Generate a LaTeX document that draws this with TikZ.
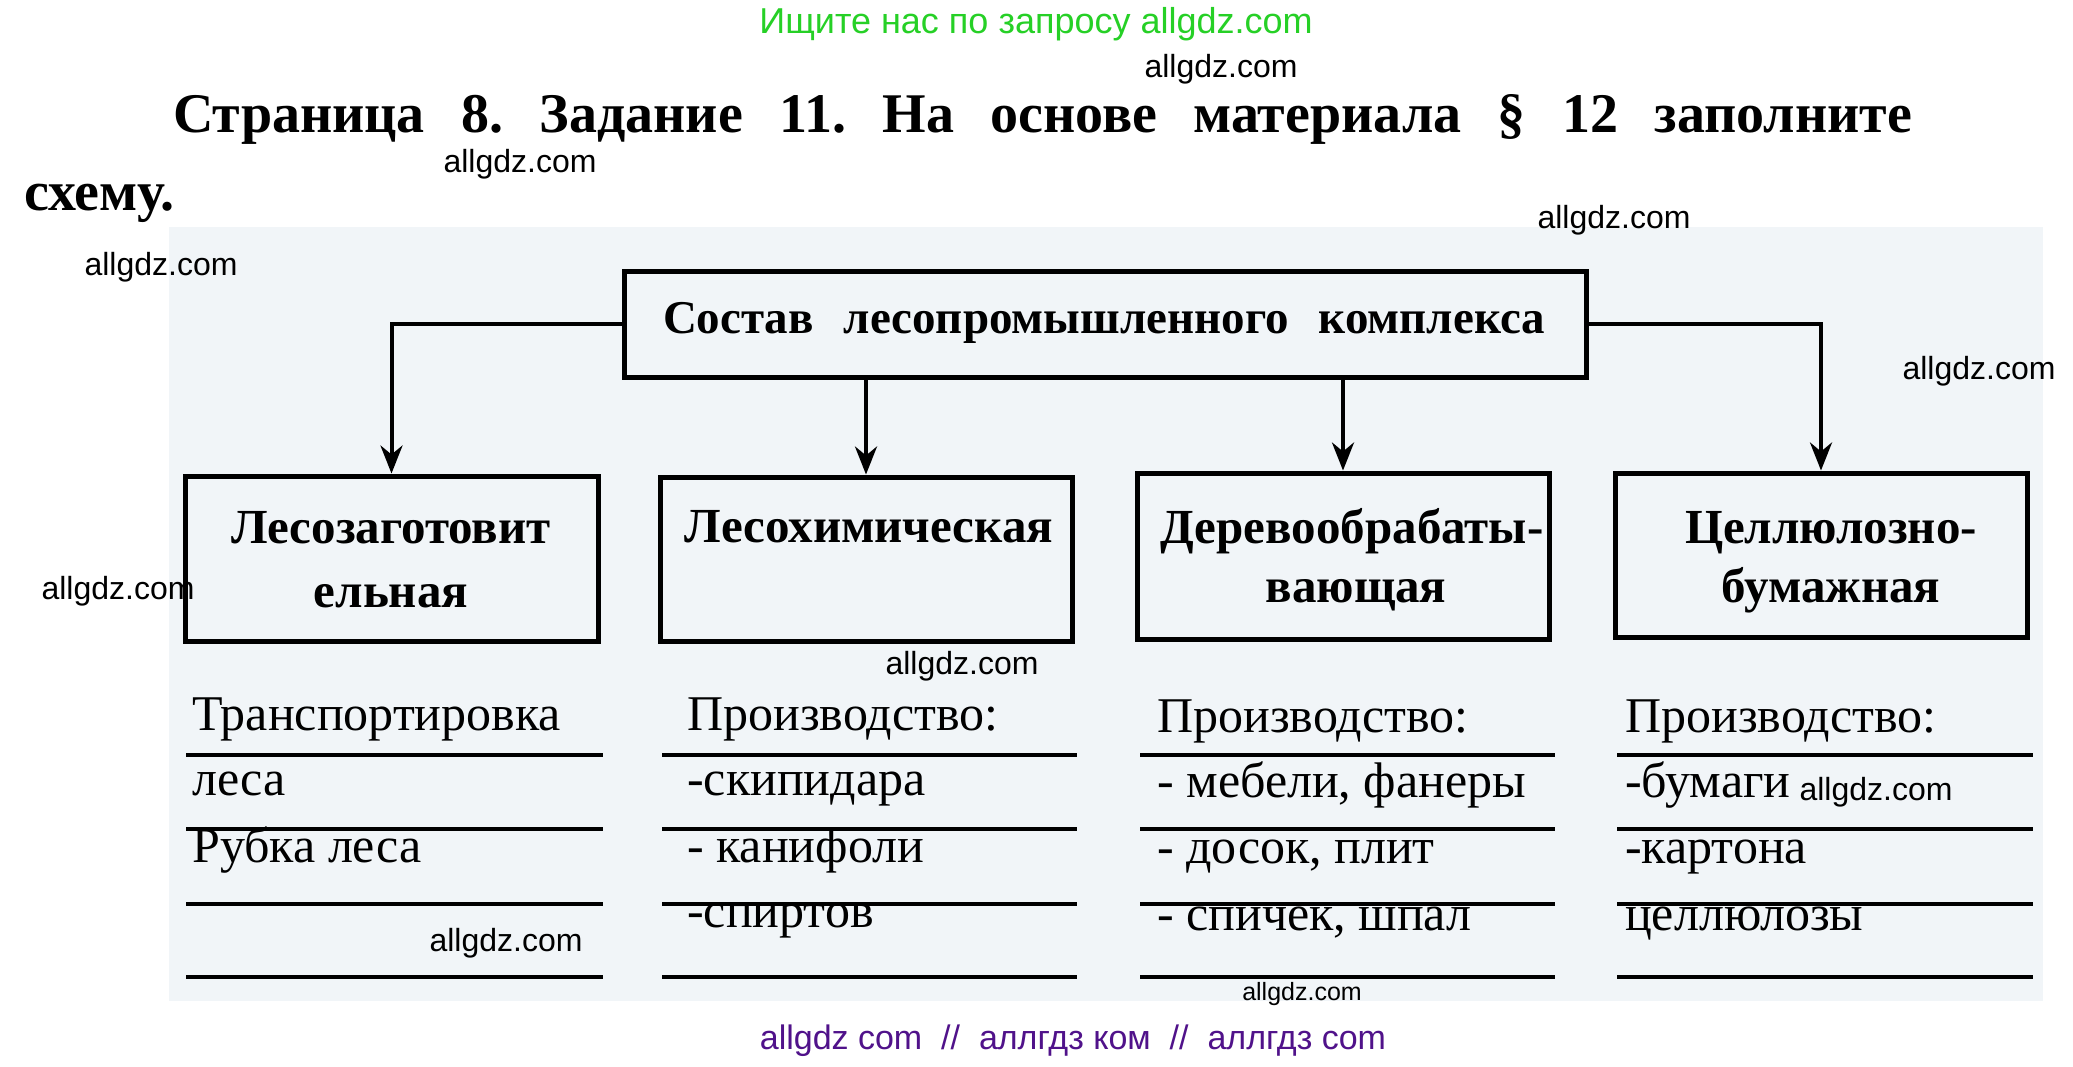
\documentclass[tikz,border=0pt]{standalone}
\usepackage{fontspec}
\setmainfont{Liberation Serif}
\newfontfamily\wmfont{Liberation Sans}
\usetikzlibrary{arrows.meta}
\definecolor{wmgreen}{RGB}{38,208,38}
\definecolor{wmpurple}{RGB}{80,18,138}
\definecolor{scanbg}{RGB}{241,245,248}
\frenchspacing
\begin{document}
\begin{tikzpicture}[x=1pt,y=-1pt,
  wm/.style={font=\wmfont\fontsize{32}{32}\selectfont, inner sep=0, anchor=base},
  boxnode/.style={draw, line width=5pt, inner sep=0},
  boxtext/.style={font=\bfseries\fontsize{49}{49}\selectfont, inner sep=0, anchor=base},
  filltext/.style={font=\fontsize{50}{50}\selectfont, inner sep=0, anchor=base west},
  arr/.style={line width=4pt, -{Stealth[length=28pt,width=22pt,inset=9pt]}},
  rulel/.style={line width=4pt}
]
\useasboundingbox (0,0) rectangle (2073,1066);
\fill[white] (0,0) rectangle (2073,1066);
\fill[scanbg] (169,227) rectangle (2043,1001);

% header texts
\node[font=\wmfont\fontsize{36}{36}\selectfont, text=wmgreen, inner sep=0, anchor=base] (green) at (1036,33) {Ищите нас по запросу allgdz.com};
\node[font=\bfseries\fontsize{56}{56}\selectfont, inner sep=0, anchor=base west] (title1) at (173,132)
  {\makebox[1739pt][s]{Страница 8. Задание 11. На основе материала § 12 заполните}};
\node[font=\bfseries\fontsize{56}{56}\selectfont, inner sep=0, anchor=base west] (title2) at (24,210) {схему.};

% boxes
\node[boxnode, minimum width=962pt, minimum height=106pt] (top) at (1105,324) {};
\node[font=\bfseries\fontsize{47}{47}\selectfont, inner sep=0, anchor=base] (toptext) at (1104,333)
  {\makebox[882pt][s]{Состав лесопромышленного комплекса}};
\node[boxnode, minimum width=413pt, minimum height=165pt] (b1) at (391.5,558.5) {};
\node[boxnode, minimum width=412pt, minimum height=164pt] (b2) at (866,559) {};
\node[boxnode, minimum width=412pt, minimum height=166pt] (b3) at (1343,556) {};
\node[boxnode, minimum width=412pt, minimum height=164pt] (b4) at (1821,555) {};

\node[boxtext] (b1t1) at (391,543) {Лесозаготовит};
\node[boxtext] (b1t2) at (391,607) {ельная};
\node[boxtext] (b2t1) at (869,542) {Лесохимическая};
\node[boxtext] (b3t1) at (1352,543) {Деревообрабаты-};
\node[boxtext] (b3t2) at (1356,602) {вающая};
\node[boxtext] (b4t1) at (1831,543) {Целлюлозно-};
\node[boxtext] (b4t2) at (1831,602) {бумажная};

% arrows
\draw[arr] (top.west) -| (b1.north);
\draw[arr] (top.south -| b2.north) -- (b2.north);
\draw[arr] (top.south -| b3.north) -- (b3.north);
\draw[arr] (top.east) -| (b4.north);

% rules
\foreach \y in {755,829,904,977}{
  \draw[rulel] (186,\y) -- (603,\y);
  \draw[rulel] (662,\y) -- (1077,\y);
  \draw[rulel] (1140,\y) -- (1555,\y);
  \draw[rulel] (1617,\y) -- (2033,\y);
}

% filled in text
\node[filltext] (c1a) at (192,730) {Транспортировка};
\node[filltext] (c1b) at (192,795) {леса};
\node[filltext] (c1c) at (192,862) {Рубка леса};
\node[filltext] (c2a) at (687,730) {Производство:};
\node[filltext] (c2b) at (687,795) {-скипидара};
\node[filltext] (c2c) at (687,862) {- канифоли};
\node[filltext] (c2d) at (687,927) {-спиртов};
\node[filltext] (c3a) at (1157,732) {Производство:};
\node[filltext] (c3b) at (1157,797) {- мебели, фанеры};
\node[filltext] (c3c) at (1157,863) {- досок, плит};
\node[filltext] (c3d) at (1157,930) {- спичек, шпал};
\node[filltext] (c4a) at (1625,732) {Производство:};
\node[filltext] (c4b) at (1625,797) {-бумаги};
\node[filltext] (c4c) at (1625,863) {-картона};
\node[filltext] (c4d) at (1625,930) {целлюлозы};

% watermarks
\node[wm] (w1) at (1221,77) {allgdz.com};
\node[wm] (w2) at (520,172) {allgdz.com};
\node[wm] (w3) at (1614,228) {allgdz.com};
\node[wm] (w4) at (161,275) {allgdz.com};
\node[wm] (w5) at (1979,379) {allgdz.com};
\node[wm] (w6) at (118,599) {allgdz.com};
\node[wm] (w7) at (962,674) {allgdz.com};
\node[wm] (w8) at (506,951) {allgdz.com};
\node[wm] (w9) at (1876,800) {allgdz.com};
\node[wm, font=\wmfont\fontsize{25}{25}\selectfont] (w10) at (1302,1000) {allgdz.com};
\node[font=\wmfont\fontsize{34}{34}\selectfont, text=wmpurple, inner sep=0, anchor=base] (purple) at (1073,1049)
  {allgdz com\ \ //\ \ аллгдз ком\ \ //\ \ аллгдз com};
\end{tikzpicture}
\end{document}
